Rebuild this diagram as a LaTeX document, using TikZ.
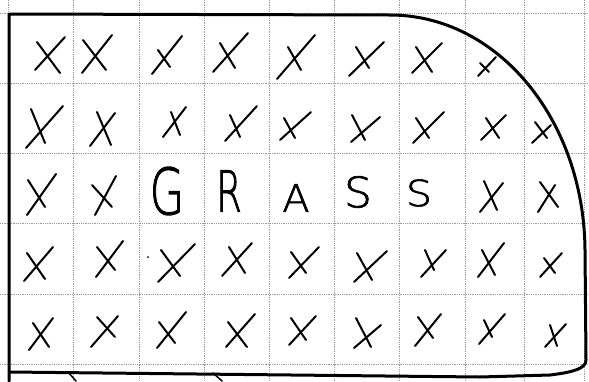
\documentclass[tikz,border=0pt]{standalone}
\usepackage{fontspec}
\newfontfamily\handfont{DejaVu Sans ExtraLight}[FakeBold=1.6]
\newcommand\handx[8]{%
  \draw[stroke] (#1,#2) -- (#3,#4);
  \draw[stroke] (#5,#6) -- (#7,#8);}
\begin{document}
\begin{tikzpicture}[x=1pt,y=-1pt,
  grid/.style={gray!80, densely dotted, line width=0.8pt},
  border/.style={line width=3pt, line cap=round, line join=round},
  stroke/.style={line width=2pt, line cap=round},
  letter/.style={inner sep=0pt, transform shape}]
\useasboundingbox (0,0) rectangle (589,381);
% grid of the paper
\foreach \x in {8,73,139,204,269,334,399,465,524,584}
  \draw[grid] (\x,0) -- (\x,381);
\foreach \y in {13,83,153,223,294,364}
  \draw[grid] (0,\y) -- (589,\y);
% outline
\draw[border] (9,381) -- (9,14) -- (390,15)
  .. controls (498,15) and (584,120) .. (585,250)
  -- (586,360) .. controls (586,368) and (575,372) .. (550,375)
  -- (480,377) -- (9,372);
\draw[stroke, line width=1.5pt] (68,372) -- (76,381);
\draw[stroke, line width=1.5pt] (213,373) -- (222,381);
% row 1
\handx{35}{70}{65}{37}{37}{42}{60}{73}
\handx{82}{73}{112}{35}{83}{40}{106}{70}
\handx{152}{74}{182}{36}{158}{50}{170}{67}
\handx{213}{72}{248}{33}{220}{43}{235}{68}
\handx{277}{79}{315}{35}{288}{47}{301}{70}
\handx{349}{76}{384}{42}{356}{47}{369}{68}
\handx{412}{73}{442}{43}{416}{47}{432}{72}
\handx{478}{76}{496}{57}{480}{63}{489}{72}
% row 2
\handx{26}{148}{63}{106}{31}{109}{45}{143}
\handx{90}{146}{115}{113}{97}{112}{111}{145}
\handx{163}{137}{186}{107}{171}{112}{180}{135}
\handx{225}{141}{257}{106}{230}{115}{240}{137}
\handx{280}{140}{311}{112}{284}{118}{295}{138}
\handx{351}{142}{380}{117}{352}{115}{365}{140}
\handx{413}{143}{444}{112}{416}{118}{429}{138}
\handx{481}{140}{506}{115}{486}{118}{499}{138}
\handx{532}{143}{551}{125}{535}{122}{547}{138}
% row 3
\handx{27}{215}{56}{174}{28}{180}{45}{207}
\handx{95}{215}{116}{176}{92}{185}{112}{207}
\node[letter, font=\handfont\fontsize{64}{64}\selectfont, xscale=0.7] (g) at (167,191) {G};
\node[letter, font=\handfont\fontsize{57}{57}\selectfont, xscale=0.65] (r) at (229,191) {R};
\node[letter, font=\handfont\fontsize{38}{38}\selectfont, xscale=1.05] (a) at (296,198) {A};
\node[letter, font=\handfont\fontsize{42}{42}\selectfont, xscale=1.05] (s1) at (358,192) {S};
\node[letter, font=\handfont\fontsize{36}{36}\selectfont, xscale=1.15] (s2) at (419,193) {S};
\handx{480}{212}{503}{183}{484}{181}{497}{210}
\handx{538}{212}{555}{185}{540}{182}{558}{207}
% row 4
\handx{24}{281}{53}{247}{27}{253}{45}{279}
\handx{96}{277}{123}{241}{97}{247}{115}{270}
\handx{158}{282}{195}{244}{161}{250}{180}{276}
\fill (148,257) circle (1pt);
\handx{222}{276}{252}{243}{229}{247}{245}{273}
\handx{289}{278}{319}{247}{291}{252}{306}{273}
\handx{354}{282}{387}{251}{357}{253}{372}{280}
\handx{421}{277}{446}{250}{425}{250}{434}{270}
\handx{478}{277}{504}{243}{482}{250}{495}{275}
\handx{540}{277}{562}{253}{544}{258}{555}{273}
% row 5
\handx{29}{350}{53}{318}{33}{323}{49}{347}
\handx{91}{347}{118}{316}{97}{317}{115}{337}
\handx{157}{348}{186}{312}{159}{322}{175}{343}
\handx{226}{347}{255}{314}{228}{322}{247}{347}
\handx{289}{345}{316}{316}{291}{318}{306}{340}
\handx{354}{348}{381}{325}{356}{318}{371}{347}
\handx{415}{346}{441}{314}{418}{317}{433}{338}
\handx{479}{344}{505}{314}{484}{320}{492}{337}
\handx{545}{347}{566}{324}{550}{325}{557}{346}
\end{tikzpicture}
\end{document}
